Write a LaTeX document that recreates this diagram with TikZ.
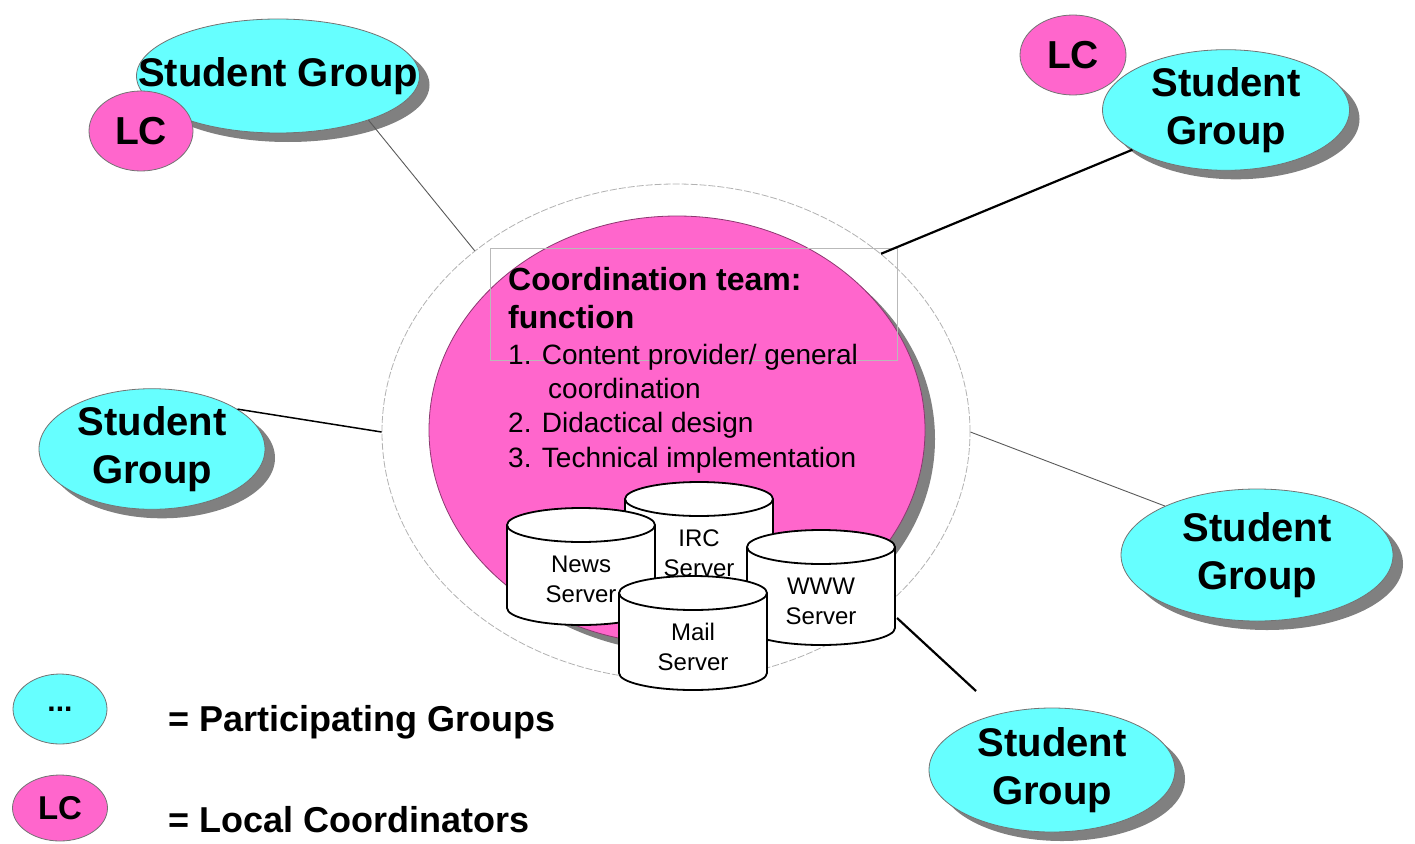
\documentclass[tikz,border=0pt]{standalone}
\usepackage{fontspec}
\setmainfont{Liberation Sans}
\usepackage{tikz}
\usetikzlibrary{shapes, shadows}
\definecolor{groupcyan}{HTML}{66FFFF}
\definecolor{lcpink}{HTML}{FF66CC}
\definecolor{shadowgray}{HTML}{808080}
\tikzset{>=latex}
\tikzset{
  sgroup/.style={ellipse, draw=black!55, line width=0.8pt, fill=groupcyan, inner sep=0pt, align=center, font=\fontsize{40}{48}\selectfont\bfseries},
  lcbubble/.style={ellipse, draw=black!55, line width=0.8pt, fill=lcpink, inner sep=0pt, font=\fontsize{39}{46}\selectfont\bfseries},
  sgshadow/.style={drop shadow={shadow xshift=10pt, shadow yshift=-9pt, fill=shadowgray, opacity=1}},
  srvtext/.style={align=center, inner sep=0pt, font=\fontsize{24}{30}\selectfont},
  headtext/.style={anchor=base west, inner sep=0pt, font=\fontsize{32}{38}\selectfont\bfseries},
  listtext/.style={anchor=base west, inner sep=0pt, font=\fontsize{28}{34}\selectfont},
  legendtext/.style={anchor=west, inner sep=0pt, font=\fontsize{36}{42}\selectfont\bfseries}
}
\newcommand{\dbserver}[5]{
  \filldraw[fill=white, draw=black, line width=1.8pt] (#2,#4) ellipse [x radius=74, y radius=17];
  \fill[white] (#2-74,#3) rectangle (#2+74,#4);
  \draw[line width=1.8pt] (#2-74,#3) -- (#2-74,#4) (#2+74,#3) -- (#2+74,#4);
  \filldraw[fill=white, draw=black, line width=1.8pt] (#2,#3) ellipse [x radius=74, y radius=17];
  \node[srvtext] (#1) at (#2,#3+54) {#5};
}

\begin{document}
\begin{tikzpicture}[x=1pt, y=-1pt]
\useasboundingbox (0,0) rectangle (1415,843);
\node[ellipse, draw=gray!60, line width=0.8pt, dash pattern=on 7pt off 2pt, fill=white, minimum width=588pt, minimum height=496pt] (ring) at (676,432) {};
\node[ellipse, draw=lcpink!55!black, line width=0.8pt, fill=lcpink, sgshadow, minimum width=496pt, minimum height=428pt] (core) at (677,430) {};
\draw[gray!55, line width=1pt] (490,248) rectangle (897,360);
\node[headtext] (head1) at (508,290) {Coordination team:};
\node[headtext] (head2) at (508,328) {function};
\node[listtext] (item1) at (508,364) {1. Content provider/ general};
\node[listtext] (item1b) at (548,398) {coordination};
\node[listtext] (item2) at (508,432) {2. Didactical design};
\node[listtext] (item3) at (508,467) {3. Technical implementation};
\dbserver{irc}{699}{499}{584}{IRC\\Server}
\dbserver{news}{581}{525}{608}{News\\Server}
\dbserver{www}{821}{547}{628}{WWW\\Server}
\dbserver{mail}{693}{593}{673}{Mail\\Server}
\node[sgroup, sgshadow, inner xsep=-42pt, minimum width=283pt, minimum height=114pt] (sgTL) at (278,76) {Student Group};
\node[lcbubble, minimum width=104pt, minimum height=80pt] (lcTL) at (141,131) {LC};
\node[lcbubble, minimum width=106pt, minimum height=80pt] (lcTR) at (1073,55) {LC};
\node[sgroup, sgshadow, minimum width=247pt, minimum height=100pt] (sgTR) at (1226,110) {Student\\Group};
\node[sgroup, sgshadow, minimum width=226pt, minimum height=106pt] (sgL) at (152,449) {Student\\Group};
\node[sgroup, sgshadow, minimum width=272pt, minimum height=132pt] (sgR) at (1257,555) {Student\\Group};
\node[sgroup, sgshadow, minimum width=246pt, minimum height=124pt] (sgBR) at (1052,770) {Student\\Group};
\coordinate (wwwport) at (897,618);
\coordinate (sgBRtip) at (976,691);
\draw[gray!70!black, line width=0.9pt] (sgTL.-26) -- (ring.138);
\draw[black, line width=2.2pt] (sgTR.203) -- (ring.41);
\draw[black, line width=1.5pt] (sgL.25) -- (ring.180);
\draw[gray!70!black, line width=0.9pt] (sgR.152) -- (ring.0);
\draw[black, line width=2.2pt] (wwwport) -- (sgBRtip);
\node[sgroup, minimum width=94pt, minimum height=70pt, font=\fontsize{30}{36}\selectfont\bfseries] (legGroup) at (60,709) {...};
\node[lcbubble, minimum width=95pt, minimum height=66pt, font=\fontsize{33}{40}\selectfont\bfseries] (legLC) at (60,808) {LC};
\node[legendtext] (legGroupText) at (168,722) {= Participating Groups};
\node[legendtext] (legLCText) at (168,820) {= Local Coordinators};
\end{tikzpicture}
\end{document}
